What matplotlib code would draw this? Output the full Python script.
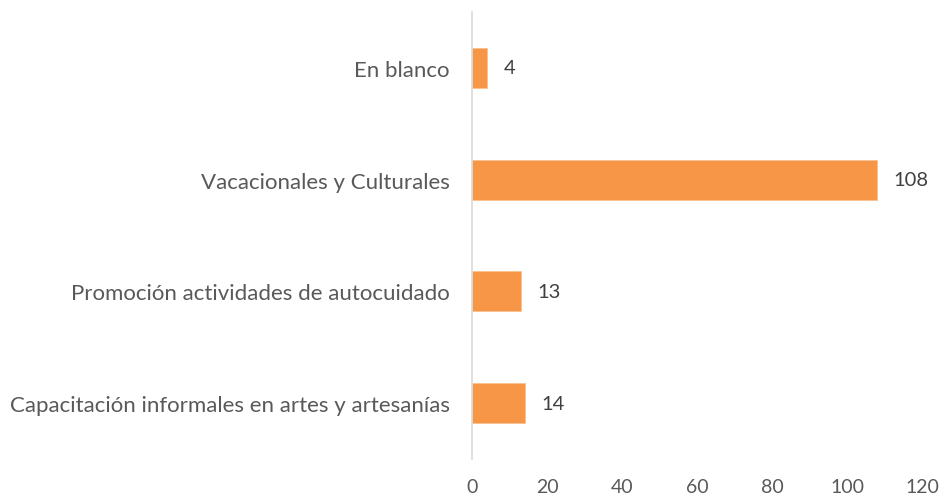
import matplotlib
matplotlib.use("Agg")
import matplotlib.pyplot as plt

plt.rcParams.update({"font.family": ["Lato", "DejaVu Sans"], "font.size": 13})

categories = ["Capacitación informales en artes y artesanías",
              "Promoción actividades de autocuidado",
              "Vacacionales y Culturales",
              "En blanco"]
values = [14, 13, 108, 4]
xticks = [0, 20, 40, 60, 80, 100, 120]

C_BAR = "#F79646"
C_TXT = "#595959"

fig = plt.figure(figsize=(9.44, 5.02), dpi=100)
ax = fig.add_axes([0.5, 0.0837, 0.4767, 0.8904])
y = range(len(categories))
ax.barh(y, values, height=0.36, color=C_BAR, edgecolor="#FAC090", linewidth=0.6)
for i, v in enumerate(values):
    ax.annotate(str(v), (v, i), xytext=(12, 0), textcoords="offset points",
                ha="left", va="center", fontsize=14.5, color="#404040")
ax.set_ylim(-0.5, 3.5)
ax.set_xlim(0, 120)
ax.set_xticks(xticks)
ax.set_yticks(list(y))
ax.set_yticklabels(categories)
for s in ["top", "right", "bottom"]:
    ax.spines[s].set_visible(False)
ax.spines["left"].set_color("#D9D9D9")
ax.spines["left"].set_linewidth(1.2)
ax.tick_params(axis="x", length=0, pad=14, labelsize=14, colors=C_TXT)
ax.tick_params(axis="y", length=0, pad=16, labelsize=16, colors=C_TXT)
ax.grid(False)
fig.savefig("out.png", facecolor="white")
